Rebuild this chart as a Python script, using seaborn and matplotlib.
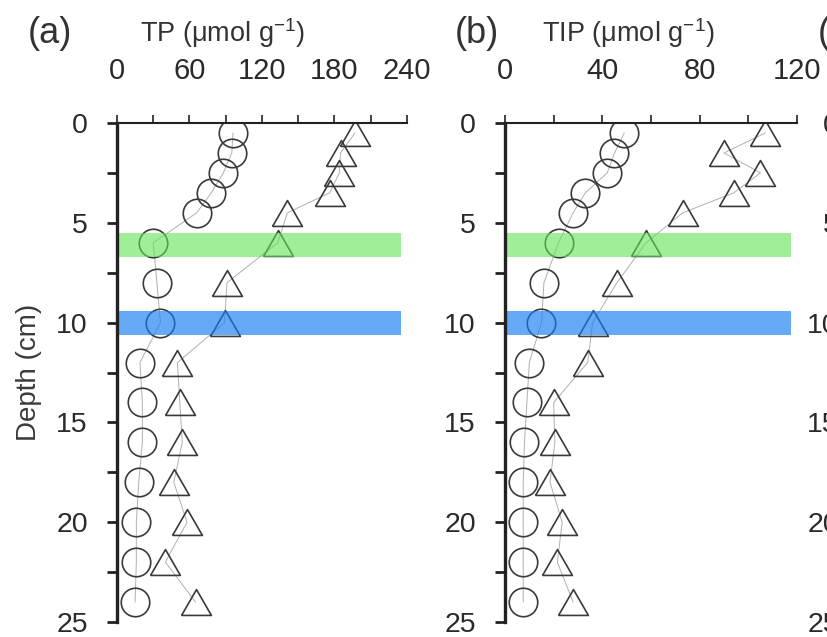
import matplotlib
matplotlib.use("Agg")
import matplotlib.pyplot as plt
import seaborn as sns
import numpy as np

# ---------------- data ----------------
depth = [0.5, 1.5, 2.5, 3.5, 4.5, 6, 8, 10, 12, 14, 16, 18, 20, 22, 24]

tp_circle = [96, 95, 88, 78, 66, 30, 33, 36, 19, 21, 21, 18, 16, 16, 15]
tp_triangle = [197, 185, 184, 176, 141, 133, 91, 89, 50, 52, 54, 47, 58, 40, 65]

tip_circle = [49, 45, 42, 33, 28, 22, 16, 15, 10, 9, 8, 7.5, 7.5, 7.5, 7.5]
tip_triangle = [107, 90, 105, 94, 73, 58, 46, 36, 34, 20, 20.5, 18.5, 23.5, 21.5, 28]

green_band = (5.5, 6.7)
blue_band = (9.4, 10.6)

panel_labels = ["(a)", "(b)", "(c)"]
x_titles = ["TP (μmol g$^{-1}$)", "TIP (μmol g$^{-1}$)"]
y_label = "Depth (cm)"

# ---------------- style ----------------
sns.set_theme(style="ticks")
plt.rcParams["font.family"] = ["Liberation Sans", "DejaVu Sans"]
plt.rcParams["mathtext.fontset"] = "custom"
plt.rcParams["mathtext.rm"] = "Liberation Sans"
plt.rcParams["mathtext.it"] = "Liberation Sans:italic"
plt.rcParams["mathtext.bf"] = "Liberation Sans:bold"

W, H = 828, 637
fig = plt.figure(figsize=(W / 100, H / 100), dpi=100)

def px_ax(left, right, top=123, bottom=622):
    return [left / W, (H - bottom) / H, (right - left) / W, (bottom - top) / H]

ax_a = fig.add_axes(px_ax(117, 407))
ax_b = fig.add_axes(px_ax(505, 797))
ax_c = fig.add_axes(px_ax(868, 1160))

tri = [(-1, -0.866), (1, -0.866), (0, 0.866), (-1, -0.866)]
edge = "#3a3a3a"
line_c = "#b4aeb4"
green = (0.38, 0.89, 0.32)
blue = (0.08, 0.49, 0.94)

def draw(ax, circ, triv):
    sns.lineplot(x=circ, y=depth, ax=ax, sort=False, estimator=None, orient="y",
                 color=line_c, lw=0.7, marker="o", ms=20.5, mfc="none",
                 mec=edge, mew=1.2, legend=False)
    sns.lineplot(x=triv, y=depth, ax=ax, sort=False, estimator=None, orient="y",
                 color=line_c, lw=0.7, marker=tri, ms=21.5, mfc="none",
                 mec=edge, mew=1.2, legend=False)

draw(ax_a, tp_circle, tp_triangle)
draw(ax_b, tip_circle, tip_triangle)

def style(ax, xmax, xmajor, xminor, bands=True, xlabels=True):
    ax.set_xlim(0, xmax)
    ax.set_ylim(25, 0)
    ax.set_xticks(np.arange(0, xmax + 0.1, xmajor))
    ax.set_xticks(np.arange(0, xmax + 0.1, xminor), minor=True)
    ax.set_yticks(np.arange(0, 25.1, 5))
    ax.set_yticks(np.arange(2.5, 25, 5), minor=True)
    ax.xaxis.tick_top()
    ax.tick_params(axis="x", which="both", top=True, bottom=False, labeltop=xlabels,
                   labelbottom=False, direction="out", length=6, width=1.2,
                   color="#222222", pad=21.5, labelsize=21, labelcolor="#2a2a2a")
    ax.tick_params(axis="y", which="both", left=True, right=False, direction="out",
                   length=7, width=2.0, color="#222222", pad=14, labelsize=20.5,
                   labelcolor="#2a2a2a")
    for s in ["right", "bottom"]:
        ax.spines[s].set_visible(False)
    ax.spines["left"].set_linewidth(2.4)
    ax.spines["top"].set_linewidth(1.5)
    ax.spines["left"].set_color("#222222")
    ax.spines["top"].set_color("#222222")
    ax.set_xlabel("")
    ax.set_ylabel("")
    ax.grid(False)
    ax.set_facecolor("none")
    if bands:
        ax.axhspan(*green_band, xmin=0, xmax=0.98, color=green, alpha=0.6, lw=0, zorder=2.2)
        ax.axhspan(*blue_band, xmin=0, xmax=0.98, color=blue, alpha=0.65, lw=0, zorder=2.2)

style(ax_a, 240, 60, 30)
style(ax_b, 120, 40, 20)
style(ax_c, 120, 40, 20, xlabels=False)

ax_a.set_ylabel(y_label, fontsize=20, color="#3a3a3a")
ax_a.yaxis.set_label_coords(-0.26, 0.5)

ax_a.text(0.079, 1.162, x_titles[0], transform=ax_a.transAxes, ha="left",
          va="baseline", fontsize=19.5, color="#333333")
ax_b.text(0.127, 1.162, x_titles[1], transform=ax_b.transAxes, ha="left",
          va="baseline", fontsize=19.5, color="#333333")

for lbl, xpx in zip(panel_labels, [28, 455, 818]):
    fig.text(xpx / W, 1 - 43 / H, lbl, ha="left", va="baseline", fontsize=26,
             color="#333333")

fig.savefig("out.png", dpi=100)
